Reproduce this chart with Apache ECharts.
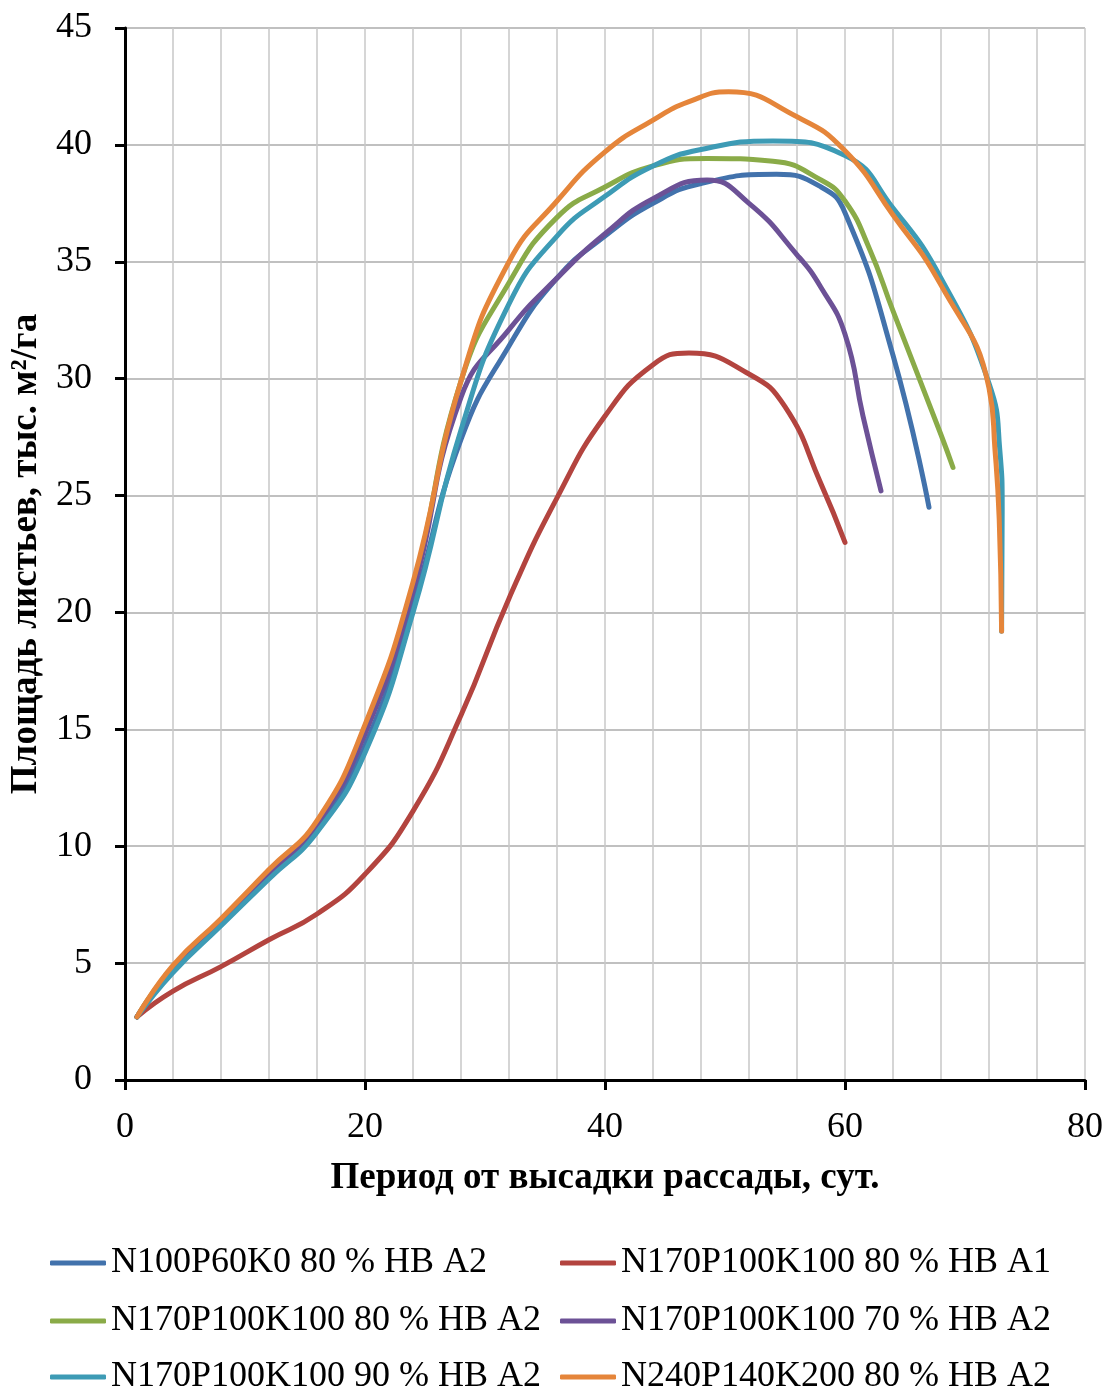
<!DOCTYPE html>
<html>
<head>
<meta charset="utf-8">
<script src="https://cdn.jsdelivr.net/npm/echarts@6/dist/echarts.min.js"></script>
<style>
html,body{margin:0;padding:0;background:#fff;}
#chart{width:1107px;height:1390px;}
</style>
</head>
<body>
<div id="chart"></div>
<script>
// ---- data ----
const seriesNames = [
  'N100P60K0 80 % НВ А2',
  'N170P100K100 80 % НВ А1',
  'N170P100K100 80 % НВ А2',
  'N170P100K100 70 % НВ А2',
  'N170P100K100 90 % НВ А2',
  'N240P140K200 80 % НВ А2'
];
const seriesColors = ['#4272ac', '#b3443f', '#8aab48', '#6c5196', '#3d9bb5', '#e5853a'];

const blueX = [1, 4, 8, 12, 16, 20, 24, 28, 32, 36, 40, 44, 48, 54.3, 58, 60, 64, 67];
const blueY = [2.7, 4.7, 6.7, 8.7, 10.75, 14.3, 20.3, 27.4, 31.4, 34.3, 36.1, 37.5, 38.35, 38.74, 38.2, 37.1, 31.0, 24.5];

const redX = [1, 4, 8, 12, 16, 20, 24, 28, 32, 36, 40, 44, 47, 52, 55, 58, 60];
const redY = [2.7, 3.8, 4.85, 6.0, 7.1, 8.8, 11.5, 15.6, 20.6, 24.9, 28.4, 30.6, 31.1, 30.2, 28.8, 25.5, 23.0];

const greenX = [1, 4, 8, 12, 16, 20, 24, 28, 32, 36, 40, 44, 48.5, 54, 58, 60, 62, 64, 68, 69];
const greenY = [2.7, 4.85, 6.8, 8.9, 11.0, 15.0, 21.1, 29.9, 34.1, 36.9, 38.2, 39.1, 39.42, 39.3, 38.5, 37.6, 35.6, 32.9, 27.6, 26.2];

const purpleX = [1, 4, 8, 12, 16, 20, 24, 28, 32, 36, 40, 44, 48.5, 52, 56, 58, 60, 61.5, 63];
const purpleY = [2.7, 4.8, 6.8, 8.85, 10.95, 14.8, 20.9, 29.2, 32.1, 34.3, 36.2, 37.7, 38.5, 37.5, 35.3, 33.9, 31.9, 28.4, 25.2];

const tealX = [1, 4, 8, 12, 16, 20, 24, 28, 32, 36, 40, 44, 48, 54, 60, 64, 68, 72, 72.9, 73.1, 73.05];
const tealY = [2.7, 4.6, 6.6, 8.6, 10.6, 14.0, 20.0, 27.8, 33.2, 36.1, 37.8, 39.1, 39.8, 40.17, 39.55, 37.3, 34.3, 29.8, 26.95, 24.5, 19.2];

const orangeX = [1, 4, 8, 12, 16, 20, 24, 28, 32, 36, 40, 44, 47, 50.3, 56, 60, 64, 68, 72, 72.5, 72.85, 73.05];
const orangeY = [2.7, 4.9, 6.9, 9.0, 11.1, 15.2, 21.3, 29.9, 35.0, 37.6, 39.7, 41.06, 41.85, 42.27, 41.2, 39.75, 37.0, 34.0, 29.6, 26.95, 24.0, 19.2];

const xTickLabels = ['0', '20', '40', '60', '80'];
const yTickLabels = ['0', '5', '10', '15', '20', '25', '30', '35', '40', '45'];
const xTitle = 'Период от высадки рассады, сут.';
const yTitle = 'Площадь листьев, тыс. м²/га';

// ---- build ----
const xs = [blueX, redX, greenX, purpleX, tealX, orangeX];
const ys = [blueY, redY, greenY, purpleY, tealY, orangeY];
const FONT = 'Liberation Serif';

const series = seriesNames.map((name, k) => ({
  name: name,
  type: 'line',
  data: xs[k].map((x, i) => [x, ys[k][i]]),
  smooth: 0.5,
  showSymbol: false,
  symbol: 'none',
  lineStyle: { width: 5, color: seriesColors[k], cap: 'round', join: 'round' },
  itemStyle: { color: seriesColors[k] },
  z: 2 + k
}));

// legend: two columns, three rows
const legendPos = [
  { left: 45, top: 1240 },  // blue
  { left: 555, top: 1240 }, // red
  { left: 45, top: 1298 },  // green
  { left: 555, top: 1298 }, // purple
  { left: 45, top: 1354 },  // teal
  { left: 555, top: 1354 }  // orange
];
const legends = seriesNames.map((name, k) => ({
  data: [name],
  left: legendPos[k].left,
  top: legendPos[k].top,
  icon: 'roundRect',
  itemWidth: 56,
  itemHeight: 5,
  selectedMode: false,
  textStyle: { fontFamily: FONT, fontSize: 36, color: '#000', lineHeight: 36 }
}));

const chart = echarts.init(document.getElementById('chart'), null, { renderer: 'canvas' });
chart.setOption({
  animation: false,
  backgroundColor: '#ffffff',
  grid: { left: 125, right: 22, top: 28, bottom: 310, containLabel: false },
  legend: legends,
  xAxis: {
    type: 'value',
    min: 0, max: 80, interval: 20,
    name: xTitle,
    nameLocation: 'middle',
    nameGap: 80,
    nameTextStyle: { fontFamily: FONT, fontSize: 37, fontWeight: 'bold', color: '#000' },
    axisLine: { show: true, onZero: false, lineStyle: { color: '#000', width: 3 } },
    axisTick: { show: true, inside: false, length: 10, lineStyle: { color: '#000', width: 3 } },
    axisLabel: {
      fontFamily: FONT, fontSize: 36, color: '#000', margin: 30,
      formatter: (v) => xTickLabels[Math.round(v / 20)]
    },
    splitLine: { show: true, lineStyle: { color: '#c8c8c8', width: 1.5 } },
    minorTick: { show: false, splitNumber: 5 },
    minorSplitLine: { show: true, lineStyle: { color: '#c8c8c8', width: 1.5 } }
  },
  yAxis: {
    type: 'value',
    min: 0, max: 45, interval: 5,
    name: yTitle,
    nameLocation: 'middle',
    nameGap: 80,
    nameRotate: 90,
    nameTextStyle: { fontFamily: FONT, fontSize: 37, fontWeight: 'bold', color: '#000' },
    axisLine: { show: true, onZero: false, lineStyle: { color: '#000', width: 3 } },
    axisTick: { show: true, inside: false, length: 10, lineStyle: { color: '#000', width: 3 } },
    axisLabel: {
      fontFamily: FONT, fontSize: 36, color: '#000', margin: 33,
      formatter: (v) => yTickLabels[Math.round(v / 5)]
    },
    splitLine: { show: true, lineStyle: { color: '#ababab', width: 1.5 } }
  },
  series: series
});
</script>
</body>
</html>
